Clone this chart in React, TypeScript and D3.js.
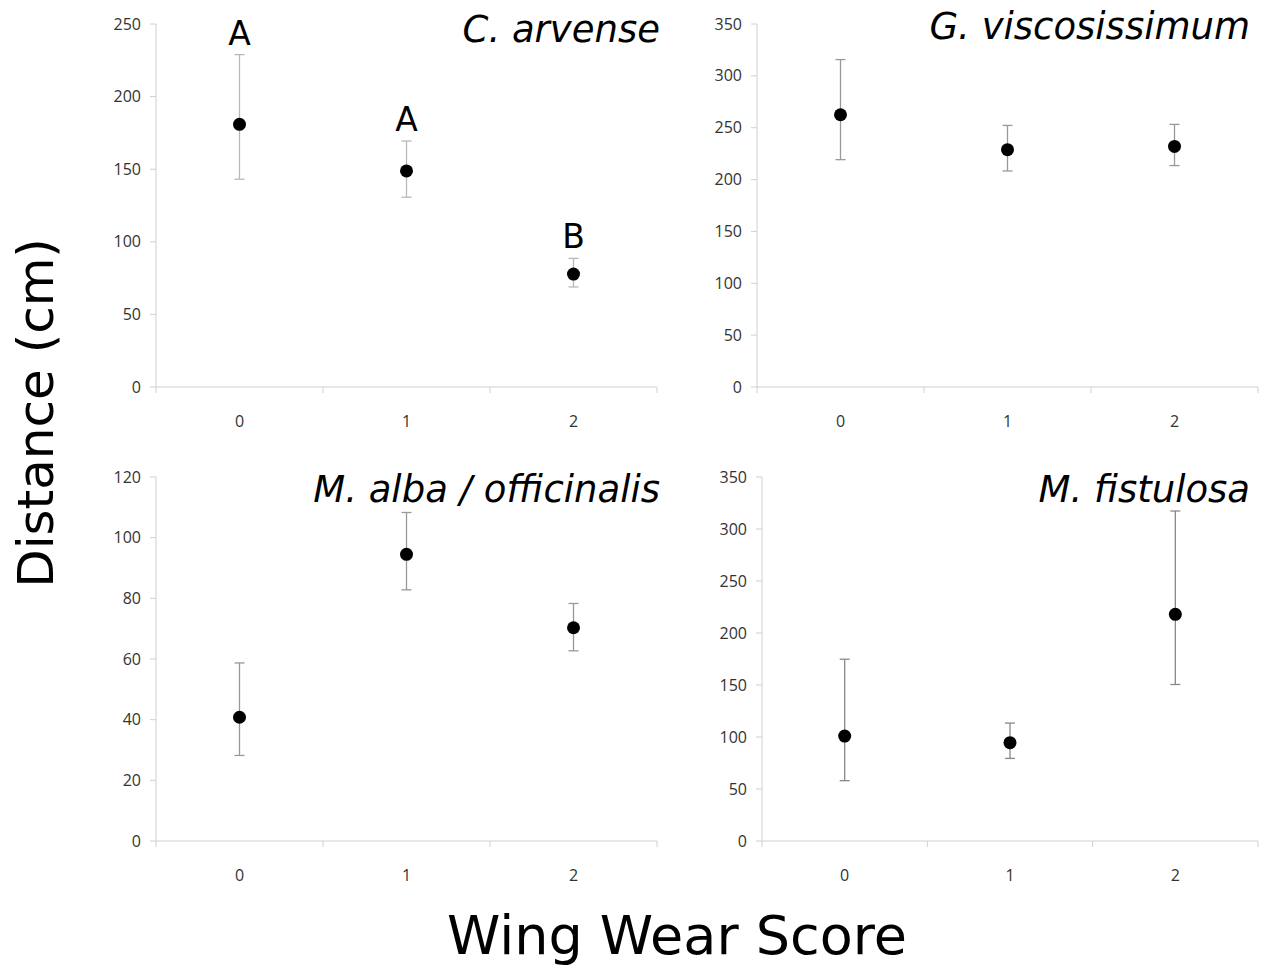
import React from "react";
import * as d3 from "d3";

const categories = ["0", "1", "2"];

const titles = ["C. arvense", "G. viscosissimum", "M. alba / officinalis", "M. fistulosa"];
const yMaxes = [250, 350, 120, 350];
const yStepsPerPanel = [50, 50, 20, 50];

const meanArvense = [180.9, 148.8, 77.8];
const upperArvense = [228.9, 169.4, 88.6];
const lowerArvense = [143.1, 130.7, 68.9];

const meanVisc = [262.5, 228.8, 232];
const upperVisc = [315.7, 252.2, 253.2];
const lowerVisc = [219.2, 208.3, 213.5];

const meanAlba = [40.8, 94.5, 70.3];
const upperAlba = [58.7, 108.3, 78.3];
const lowerAlba = [28.2, 82.8, 62.7];

const meanFist = [100.9, 94.5, 218];
const upperFist = [174.8, 113.4, 317.3];
const lowerFist = [58, 79.4, 150.5];

const letters = [["A", "A", "B"], null, null, null];

const panelData = [
  { mean: meanArvense, upper: upperArvense, lower: lowerArvense },
  { mean: meanVisc, upper: upperVisc, lower: lowerVisc },
  { mean: meanAlba, upper: upperAlba, lower: lowerAlba },
  { mean: meanFist, upper: upperFist, lower: lowerFist },
];

const frames = [
  { left: 156, right: 657, top: 24, bottom: 387, err: "#b8b8b8", titleX: 660, titleY: 42 },
  { left: 757, right: 1258, top: 24, bottom: 387, err: "#999", titleX: 1250, titleY: 39 },
  { left: 156, right: 657, top: 477, bottom: 841, err: "#999", titleX: 660, titleY: 502 },
  { left: 762, right: 1258, top: 477, bottom: 841, err: "#888", titleX: 1250, titleY: 502 },
];

const tickFont = "'Open Sans', 'DejaVu Sans', sans-serif";
const axisColor = "#d0d0d0";

function Panel({ i }: { i: number }) {
  const f = frames[i];
  const d = panelData[i];
  const x = d3.scaleBand().domain(categories).range([f.left, f.right]);
  const y = d3.scaleLinear().domain([0, yMaxes[i]]).range([f.bottom, f.top]);
  const ticks = d3.range(0, yMaxes[i] + 0.001, yStepsPerPanel[i]);
  const bounds = [f.left, ...categories.map((c) => (x(c) as number) + x.bandwidth())];
  const cap = 5;
  return (
    <g>
      <line x1={f.left} x2={f.left} y1={f.top} y2={f.bottom} stroke={axisColor} strokeWidth={1} />
      <line x1={f.left} x2={f.right} y1={f.bottom} y2={f.bottom} stroke={axisColor} strokeWidth={1} />
      {ticks.map((t) => (
        <g key={t}>
          <line x1={f.left - 6} x2={f.left} y1={y(t)} y2={y(t)} stroke={axisColor} />
          <text x={f.left - 15} y={y(t)} dy="0.35em" textAnchor="end" fontFamily={tickFont} fontSize={16} fill="#333">
            {t}
          </text>
        </g>
      ))}
      {bounds.map((b, k) => (
        <line key={k} x1={b} x2={b} y1={f.bottom} y2={f.bottom + 6} stroke={axisColor} />
      ))}
      {categories.map((c) => (
        <text key={c} x={(x(c) as number) + x.bandwidth() / 2} y={f.bottom + 34} dy="0.35em" textAnchor="middle" fontFamily={tickFont} fontSize={16} fill="#333">
          {c}
        </text>
      ))}
      {categories.map((c, k) => {
        const cx = (x(c) as number) + x.bandwidth() / 2;
        return (
          <g key={c}>
            <line x1={cx} x2={cx} y1={y(d.upper[k])} y2={y(d.lower[k])} stroke={f.err} strokeWidth={1.3} />
            <line x1={cx - cap} x2={cx + cap} y1={y(d.upper[k])} y2={y(d.upper[k])} stroke={f.err} strokeWidth={1.3} />
            <line x1={cx - cap} x2={cx + cap} y1={y(d.lower[k])} y2={y(d.lower[k])} stroke={f.err} strokeWidth={1.3} />
            <circle cx={cx} cy={y(d.mean[k])} r={6.5} fill="#000" />
          </g>
        );
      })}
      {letters[i] &&
        categories.map((c, k) => (
          <text key={"l" + c} x={(x(c) as number) + x.bandwidth() / 2} y={y(d.upper[k]) - 10} textAnchor="middle" fontFamily="'DejaVu Sans', sans-serif" fontSize={33} fill="#000">
            {(letters[i] as string[])[k]}
          </text>
        ))}
      <text x={f.titleX} y={f.titleY} textAnchor="end" fontFamily="'DejaVu Sans', sans-serif" fontStyle="italic" fontSize={37} fill="#000">
        {titles[i]}
      </text>
    </g>
  );
}

export default function App() {
  return (
    <svg width={1266} height={966} style={{ position: "absolute", left: 0, top: 0, background: "#fff" }}>
      <rect width={1266} height={966} fill="#fff" />
      {[0, 1, 2, 3].map((i) => (
        <Panel key={i} i={i} />
      ))}
      <text transform="translate(53,413) rotate(-90)" textAnchor="middle" fontFamily="'DejaVu Sans', sans-serif" fontSize={50} fill="#000">
        Distance (cm)
      </text>
      <text x={677} y={954} textAnchor="middle" fontFamily="'DejaVu Sans', sans-serif" fontSize={54} fill="#000">
        Wing Wear Score
      </text>
    </svg>
  );
}
